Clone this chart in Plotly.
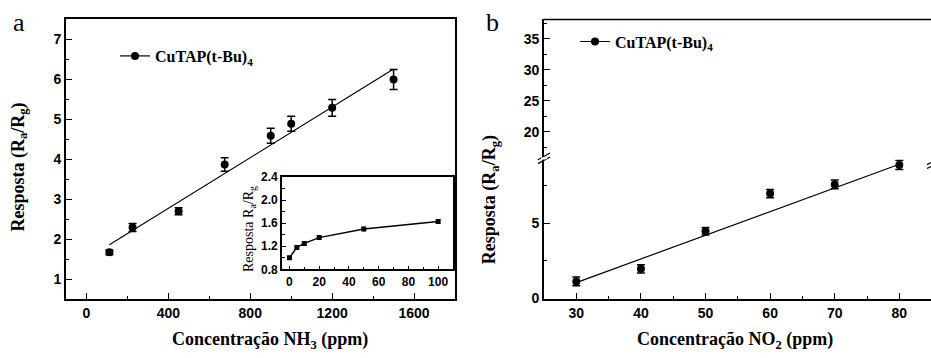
import plotly.graph_objects as go

# ---------------- data ----------------
# Panel a: NH3
nh3_conc = [112, 225, 450, 675, 900, 1000, 1200, 1500]
nh3_resp = [1.67, 2.29, 2.70, 3.87, 4.59, 4.89, 5.29, 6.00]
nh3_err = [0.06, 0.10, 0.09, 0.17, 0.19, 0.19, 0.21, 0.25]
nh3_fit_x = [112, 1500]
nh3_fit_y = [1.86, 6.26]

# Inset: low concentrations
ins_conc = [0, 5, 10, 20, 50, 100]
ins_resp = [1.00, 1.18, 1.25, 1.35, 1.50, 1.63]
ins_err = [0.02, 0.02, 0.03, 0.03, 0.03, 0.03]

# Panel b: NO2
no2_conc = [30, 40, 50, 60, 70, 80]
no2_resp = [1.13, 1.97, 4.47, 6.99, 7.60, 8.90]
no2_err = [0.29, 0.27, 0.25, 0.28, 0.29, 0.30]
no2_fit_x = [30, 80]
no2_fit_y = [1.05, 8.95]

series_name = "CuTAP(t-Bu)<sub>4</sub>"

# ---------------- styling ----------------
W, H = 931, 358
SERIF = "Liberation Serif, Times New Roman, serif"
SANS = "Liberation Sans, Arial, sans-serif"

def px(x):
    return x / W

def py(y):
    return 1 - y / H

tickfont = dict(family=SANS, size=14, color="black", weight="bold")
axis_common = dict(showline=True, linecolor="black", linewidth=1.6,
                   ticks="inside", tickcolor="black", tickwidth=1.4,
                   ticklen=6, showgrid=False, zeroline=False,
                   tickfont=tickfont)
minor_common = dict(ticks="inside", ticklen=3, tickcolor="black",
                    tickwidth=1.2, showgrid=False)

fig = go.Figure()

err_style = dict(type="data", visible=True, color="black", thickness=1.5, width=4)
marker_style = dict(color="black", size=8, symbol="circle")

# Panel a
fig.add_trace(go.Scatter(x=nh3_fit_x, y=nh3_fit_y, mode="lines",
                         line=dict(color="black", width=1.2),
                         xaxis="x", yaxis="y", showlegend=False))
fig.add_trace(go.Scatter(x=nh3_conc, y=nh3_resp, mode="markers",
                         marker=marker_style,
                         error_y=dict(array=nh3_err, **err_style),
                         xaxis="x", yaxis="y", showlegend=False))
fig.add_trace(go.Scatter(x=[None], y=[None], mode="lines+markers",
                         name=series_name,
                         line=dict(color="black", width=1.2),
                         marker=marker_style,
                         xaxis="x", yaxis="y", legend="legend"))

# Inset
fig.add_trace(go.Scatter(x=ins_conc, y=ins_resp, mode="lines+markers",
                         line=dict(color="black", width=1.5),
                         marker=dict(color="black", size=5, symbol="square"),
                         error_y=dict(type="data", array=ins_err, color="black",
                                      thickness=1, width=2),
                         xaxis="x2", yaxis="y2", showlegend=False))

# Panel b (lower segment holds all data)
fig.add_trace(go.Scatter(x=no2_fit_x, y=no2_fit_y, mode="lines",
                         line=dict(color="black", width=1.2),
                         xaxis="x3", yaxis="y3", showlegend=False,
                         cliponaxis=False))
fig.add_trace(go.Scatter(x=no2_conc, y=no2_resp, mode="markers",
                         marker=marker_style,
                         error_y=dict(array=no2_err, **err_style),
                         xaxis="x3", yaxis="y3", showlegend=False,
                         cliponaxis=False))
fig.add_trace(go.Scatter(x=[None], y=[None], mode="lines+markers",
                         name=series_name,
                         line=dict(color="black", width=1.2),
                         marker=marker_style,
                         xaxis="x3", yaxis="y4", legend="legend2"))

fig.update_layout(
    width=W, height=H,
    margin=dict(l=0, r=0, t=0, b=0),
    paper_bgcolor="white", plot_bgcolor="white",
    xaxis=dict(domain=[px(66), px(455)], range=[-100, 1800], anchor="y",
               tickvals=[0, 400, 800, 1200, 1600], mirror=True,
               minor=dict(dtick=200, tick0=0, **minor_common), **axis_common),
    yaxis=dict(domain=[py(304), py(13)], range=[0.5, 7.5], anchor="x",
               dtick=1, tick0=0, mirror=True,
               minor=dict(dtick=0.5, tick0=0, **minor_common), **axis_common),
    xaxis2=dict(domain=[px(282), px(453)], range=[-5, 110], anchor="y2",
                dtick=20, tick0=0, mirror=True,
                minor=dict(dtick=10, tick0=0, **minor_common),
                **{**axis_common, "tickfont": dict(family=SANS, size=12, color="black", weight="bold"),
                   "ticklen": 4}),
    yaxis2=dict(domain=[py(273), py(177)], range=[0.8, 2.4], anchor="x2",
                dtick=0.4, tick0=0, tickformat=".1f", mirror=True,
                minor=dict(dtick=0.2, tick0=0, **minor_common),
                **{**axis_common, "tickfont": dict(family=SANS, size=12, color="black", weight="bold"),
                   "ticklen": 4}),
    xaxis3=dict(domain=[px(544), 1.0], range=[25, 84.9], anchor="y3",
                dtick=10, tick0=0,
                minor=dict(dtick=5, tick0=0, **minor_common), **axis_common),
    yaxis3=dict(domain=[py(304), py(158)], range=[-0.05, 9.31], anchor="x3",
                tickvals=[0, 5],
                minor=dict(dtick=2.5, tick0=0, **minor_common), **axis_common),
    yaxis4=dict(domain=[py(158), py(13)], range=[15.67, 38.09], anchor="x3",
                tickvals=[20, 25, 30, 35],
                minor=dict(dtick=2.5, tick0=0, **minor_common), **axis_common),
    legend=dict(x=px(115), y=py(51), xanchor="left", yanchor="middle",
                bgcolor="rgba(0,0,0,0)",
                font=dict(family=SERIF, size=16, color="black", weight="bold")),
    legend2=dict(x=px(575), y=py(36), xanchor="left", yanchor="middle",
                 bgcolor="rgba(0,0,0,0)",
                 font=dict(family=SERIF, size=16, color="black", weight="bold")),
)

shapes = [
    # top border of panel b
    dict(type="line", xref="paper", yref="paper", x0=px(544), x1=1.0,
         y0=py(13), y1=py(13), line=dict(color="black", width=1.6)),
    # break marks on left axis of panel b
    dict(type="line", xref="paper", yref="paper", x0=px(538), x1=px(550),
         y0=py(163), y1=py(156), line=dict(color="black", width=1.2)),
    dict(type="line", xref="paper", yref="paper", x0=px(538), x1=px(550),
         y0=py(159), y1=py(152), line=dict(color="black", width=1.2)),
    dict(type="line", xref="paper", yref="paper", x0=px(541), x1=px(547),
         y0=py(158), y1=py(157), line=dict(color="white", width=2.5)),
    # break mark at right edge
    dict(type="line", xref="paper", yref="paper", x0=px(927), x1=px(931),
         y0=py(164), y1=py(162), line=dict(color="black", width=1.2)),
    dict(type="line", xref="paper", yref="paper", x0=px(927), x1=px(931),
         y0=py(168), y1=py(166), line=dict(color="black", width=1.2)),
]
fig.update_layout(shapes=shapes)

title_font = dict(family=SERIF, size=18, color="black", weight="bold")
annotations = [
    dict(text="a", x=px(19), y=py(16), font=dict(family=SERIF, size=26, color="black")),
    dict(text="b", x=px(492), y=py(16), font=dict(family=SERIF, size=26, color="black")),
    dict(text="Resposta (R<sub>a</sub>/R<sub>g</sub>)", x=px(19), y=py(167),
         textangle=-90, font=title_font),
    dict(text="Resposta (R<sub>a</sub>/R<sub>g</sub>)", x=px(490), y=py(201),
         textangle=-90, font=title_font),
    dict(text="Concentração NH<sub>3</sub> (ppm)", x=px(270), y=py(347), font=title_font),
    dict(text="Concentração NO<sub>2</sub> (ppm)", x=px(735), y=py(347), font=title_font),
    dict(text="Resposta R<sub>a</sub>/R<sub>g</sub>", x=px(250), y=py(231),
         textangle=-90, font=dict(family=SERIF, size=14, color="black")),
]
for a in annotations:
    a.update(xref="paper", yref="paper", showarrow=False,
             xanchor="center", yanchor="middle")
fig.update_layout(annotations=annotations)

post = (
    "document.documentElement.style.margin='0';"
    "document.documentElement.style.overflow='hidden';"
    "document.body.style.margin='0';"
    "document.body.style.padding='0';"
    "document.body.style.overflow='hidden';"
    "document.body.style.height='358px';"
    "var d=document.getElementById('{plot_id}');"
    "d.style.position='fixed';d.style.left='0px';d.style.top='0px';"
)

fig.write_html("out.html", config={"displayModeBar": False}, post_script=post)
